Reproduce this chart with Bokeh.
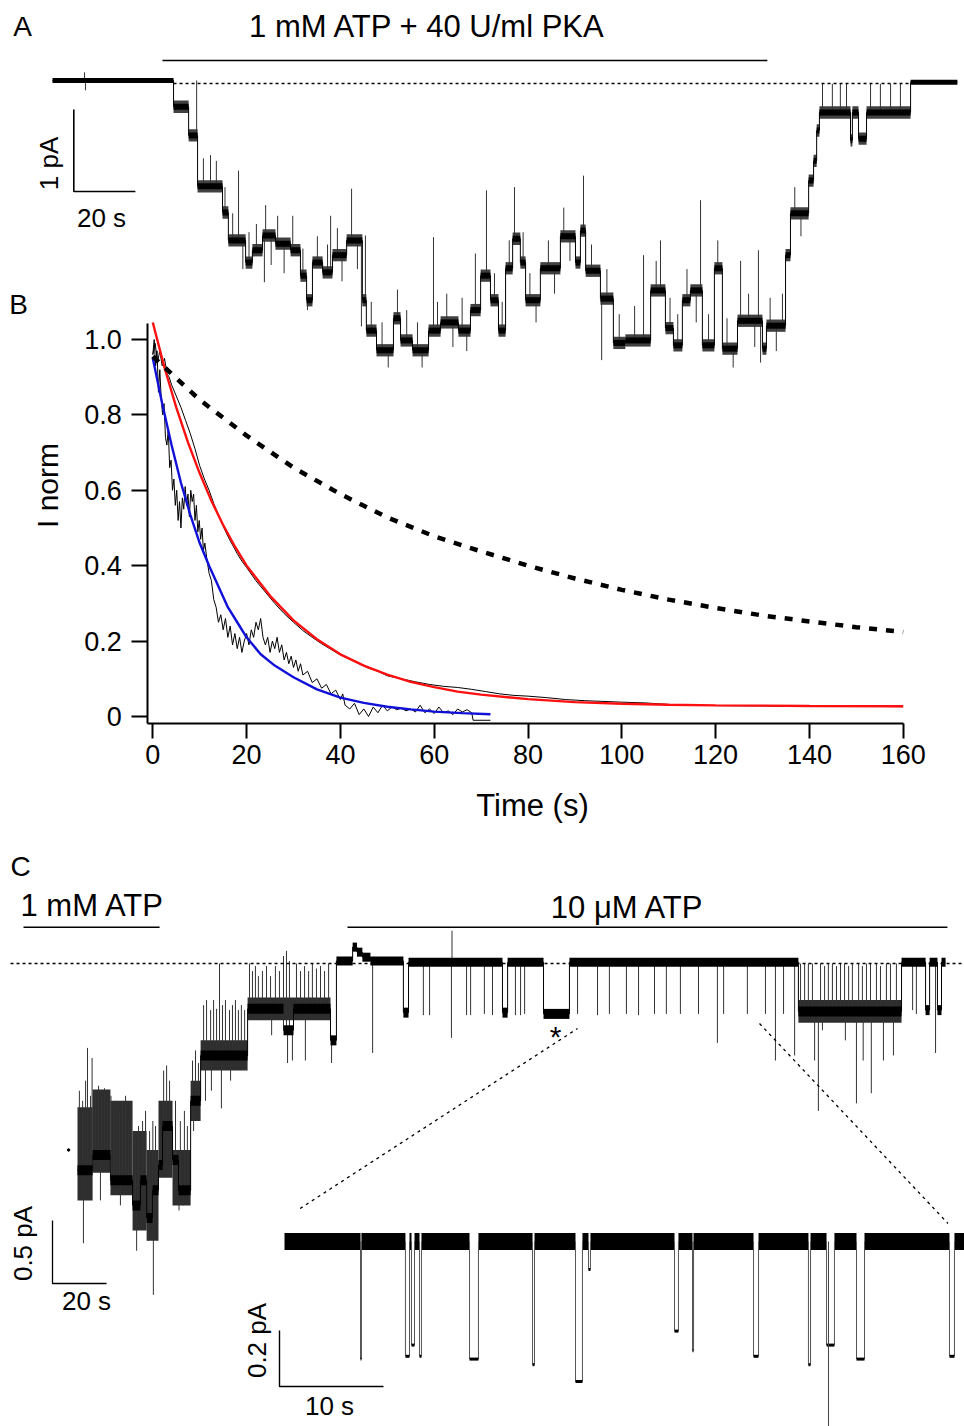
import numpy as np
from bokeh.plotting import figure
from bokeh.models import Range1d, LinearAxis, FixedTicker, PrintfTickFormatter, Label
from bokeh.embed import file_html
from bokeh.resources import INLINE

# ---------------- data ----------------
# Panel A: patch recording, step levels (start time in s, current in pA)
a_start = [0, 39.3, 44.2, 47.1, 55.2, 57.1, 62.7, 64.9, 68.2, 72.4,
           77.3, 80.5, 82.5, 84.4, 87.7, 90.9, 95.5, 100.6, 101.9, 105.2,
           110.7, 113.0, 116.9, 122.1, 126.0, 131.8, 135.7, 139.0, 142.2, 144.8,
           147.1, 149.4, 151.9, 153.6, 158.4, 164.9, 169.8, 171.4, 173.1, 177.9,
           182.1, 186.0, 194.2, 199.0, 201.6, 204.5, 207.1, 211.0, 214.9, 217.5,
           222.4, 230.5, 231.8, 238.0, 239.6, 245.5, 247.1, 248.1, 249.0, 259.1,
           259.7, 261.7, 264.3, 278.6]
a_level = [0.0, -0.32, -0.67, -1.29, -1.61, -1.95, -2.22, -2.07, -1.89, -1.99,
           -2.07, -2.38, -2.68, -2.22, -2.34, -2.13, -1.95, -2.68, -3.05, -3.29,
           -2.90, -3.17, -3.29, -3.05, -2.95, -3.05, -2.80, -2.38, -2.68, -3.05,
           -2.29, -1.93, -2.22, -2.68, -2.29, -1.90, -2.22, -1.83, -2.32, -2.66,
           -3.20, -3.17, -2.56, -3.02, -3.23, -2.68, -2.56, -3.23, -2.29, -3.27,
           -2.93, -3.27, -2.99, -2.13, -1.62, -1.22, -0.98, -0.61, -0.39, -0.73,
           -0.39, -0.71, -0.39, -0.02]
a_end = 293.8
a_noise = 0.075                # half-width of the noise band at open levels (pA)
# brief flickers (time s, tip pA)
a_spikes = [(10.4, 0.10), (10.7, -0.12), (46.8, 0.0), (49.0, -0.95), (51.3, -0.91),
            (53.2, -0.98), (56.0, -1.30), (58.5, -1.62), (60.4, -1.10), (61.8, -2.30),
            (63.8, -1.85), (66.2, -1.75), (68.8, -2.46), (69.2, -1.52), (71.0, -2.25),
            (73.1, -1.65), (75.2, -2.35), (78.0, -1.65), (81.3, -2.05), (82.8, -2.80),
            (86.0, -1.90), (89.3, -2.00), (90.3, -1.65), (92.5, -1.80), (94.0, -2.45),
            (97.1, -1.32), (99.0, -2.30), (100.3, -3.00), (101.6, -1.89), (103.5, -2.70),
            (107.0, -2.95), (109.0, -3.50), (112.0, -2.55), (115.0, -2.80), (118.5, -2.95),
            (120.0, -3.50), (123.7, -1.91), (125.0, -2.70), (128.0, -2.60), (130.0, -3.25),
            (133.0, -2.65), (134.5, -3.30), (137.3, -2.11), (140.9, -1.34), (143.5, -2.35),
            (146.0, -2.70), (148.3, -1.95), (150.0, -1.30), (152.8, -1.85), (155.0, -2.35),
            (157.0, -2.95), (161.0, -1.95), (163.0, -2.60), (166.0, -1.55), (168.0, -2.20),
            (172.4, -1.16), (175.0, -2.00), (178.3, -3.41), (180.0, -2.30), (184.0, -2.85),
            (189.0, -2.75), (191.9, -2.13), (196.0, -2.20), (197.4, -1.95), (200.5, -2.65),
            (203.0, -2.85), (206.0, -2.30), (209.0, -2.95), (210.4, -1.46), (213.0, -2.85),
            (216.0, -1.95), (219.0, -2.90), (221.0, -3.50), (223.4, -2.20), (226.0, -2.60),
            (228.0, -3.25), (229.2, -2.07), (229.9, -3.44), (233.0, -2.65), (235.0, -3.30),
            (237.0, -2.60), (241.0, -1.30), (243.0, -1.90), (250.0, -0.04), (253.2, -0.04),
            (255.8, -0.04), (257.8, -0.04), (265.6, -0.04), (268.8, -0.04), (272.1, -0.04),
            (275.3, -0.04)]
a_pka = (35.7, 232.1)          # 1 mM ATP + 40 U/ml PKA application (s)
a_zero_line = (39.3, 278.6)    # dotted zero-current line (s)

# Panel B: normalised current decay, time (s)
b_fast_t = [0, 0.3, 0.6, 0.9, 1.2, 1.5, 1.8, 2.1, 2.4, 2.7, 3.0, 3.3, 3.6, 3.9, 4.2, 4.5,
            4.8, 5.1, 5.4, 5.7, 6.0, 6.3, 6.6, 6.9, 7.2, 7.5, 7.8, 8.1, 8.4, 8.7, 9.0,
            9.3, 9.6, 9.9, 10.2, 10.5, 10.8, 11.1, 11.5, 12.0, 12.5, 13.0, 13.5, 14.0,
            14.5, 15.0, 15.5, 16.0, 16.5, 17.0, 17.5, 18.0, 18.5, 19.0, 19.5, 20.0,
            20.5, 21.0, 21.5, 22.0, 22.5, 23.0, 23.5, 24.0, 24.5, 25.0, 25.5, 26.0,
            26.5, 27.0, 27.5, 28.0, 28.5, 29.0, 29.5, 30.0, 30.5, 31.0, 31.5, 32.0,
            33.0, 34.0, 35.0, 36.0, 37.0, 38.0, 39.0, 40.0, 40.5, 41.0, 42.0, 43.0,
            44.0, 45.0, 46.0, 47.0, 48.0, 49.0, 50.0, 51.0, 52.0, 53.0, 54.0, 55.0,
            56.0, 57.0, 58.0, 59.0, 60.0, 61.0, 62.0, 63.0, 64.0, 65.0, 66.0, 67.0,
            68.0, 68.3, 72.0]
b_fast_v = [0.96, 1.00, 0.93, 0.97, 0.86, 0.92, 0.84, 0.80, 0.83, 0.74, 0.72, 0.76, 0.66,
            0.68, 0.60, 0.63, 0.56, 0.60, 0.52, 0.57, 0.50, 0.58, 0.55, 0.61, 0.56, 0.59,
            0.53, 0.60, 0.57, 0.59, 0.52, 0.56, 0.49, 0.52, 0.47, 0.50, 0.44, 0.46, 0.42,
            0.38, 0.36, 0.31, 0.29, 0.25, 0.27, 0.23, 0.26, 0.21, 0.24, 0.19, 0.22, 0.18,
            0.21, 0.17, 0.20, 0.22, 0.19, 0.23, 0.21, 0.25, 0.23, 0.26, 0.21, 0.19, 0.21,
            0.17, 0.20, 0.18, 0.21, 0.17, 0.19, 0.15, 0.17, 0.14, 0.16, 0.13, 0.15, 0.12,
            0.14, 0.11, 0.12, 0.09, 0.10, 0.075, 0.085, 0.06, 0.07, 0.045, 0.06, 0.03,
            0.02, 0.035, 0.005, 0.02, 0.0, 0.025, 0.01, 0.03, 0.015, 0.025, 0.018, 0.022,
            0.015, 0.02, 0.012, 0.03, 0.01, 0.02, 0.008, 0.025, 0.01, 0.015, 0.005, 0.02,
            0.012, 0.018, 0.01, -0.01, -0.01]
b_slow_t = [0, 0.5, 1, 1.5, 2, 2.5, 3, 3.5, 4, 5, 6, 7, 8, 9, 10, 11, 12, 13, 14, 15, 16,
            17, 18, 19, 20, 22, 24, 26, 28, 30, 32, 34, 36, 38, 40, 42, 44, 46, 48, 50,
            53, 56, 59, 62, 65, 68, 71, 74, 77, 80, 84, 88, 92, 96, 100, 105, 110, 115,
            120, 130, 140, 150, 160]
b_slow_v = [0.96, 0.99, 0.94, 0.97, 0.93, 0.95, 0.91, 0.90, 0.88, 0.85, 0.82, 0.785, 0.75,
            0.71, 0.665, 0.63, 0.60, 0.565, 0.535, 0.505, 0.478, 0.455, 0.432, 0.412,
            0.395, 0.36, 0.33, 0.30, 0.273, 0.25, 0.228, 0.21, 0.193, 0.178, 0.163, 0.152,
            0.14, 0.128, 0.12, 0.108, 0.10, 0.092, 0.085, 0.08, 0.077, 0.072, 0.066, 0.06,
            0.056, 0.054, 0.05, 0.045, 0.042, 0.04, 0.038, 0.036, 0.032, 0.03, 0.029,
            0.028, 0.027, 0.027, 0.026]
red_t = [0, 2.5, 5, 7.5, 10, 12.5, 15, 17.5, 20, 25, 30, 35, 40, 45, 50, 55, 60, 65, 70,
         80, 90, 100, 110, 120, 140, 160]
red_v = [1.045, 0.925, 0.82, 0.727, 0.645, 0.572, 0.508, 0.451, 0.40, 0.32, 0.255, 0.205,
         0.165, 0.135, 0.111, 0.092, 0.078, 0.066, 0.058, 0.046, 0.038, 0.034, 0.031,
         0.0295, 0.028, 0.027]
blue_t = [0, 2, 4, 6, 8, 10, 12, 14, 16, 18, 20, 23, 26, 30, 35, 40, 45, 50, 55, 60, 66, 72]
blue_v = [0.95, 0.83, 0.72, 0.62, 0.535, 0.46, 0.40, 0.345, 0.29, 0.25, 0.21, 0.165,
          0.135, 0.104, 0.072, 0.05, 0.036, 0.026, 0.019, 0.013, 0.009, 0.006]
dash_t = [0, 10, 20, 30, 40, 50, 60, 70, 80, 90, 100, 110, 120, 130, 140, 150, 160]
dash_v = [0.955, 0.84, 0.745, 0.66, 0.59, 0.528, 0.478, 0.438, 0.40, 0.366, 0.336, 0.31,
          0.288, 0.268, 0.252, 0.237, 0.224]
b_xticks = [0, 20, 40, 60, 80, 100, 120, 140, 160]
b_yticks = [0, 0.2, 0.4, 0.6, 0.8, 1.0]

# Panel C: 1 mM ATP -> 10 uM ATP, step levels (s, pA)
c_start = [0, 5.6, 12.2, 20.4, 23.3, 25.6, 27.8, 30.0, 31.5, 35.2, 37.4, 41.9, 45.6,
           63.0, 76.3, 80.0, 93.7, 95.9, 101.9, 103.5, 105.5, 108.5, 120.7, 122.6,
           157.4, 159.3, 172.6, 182.2, 267.0, 305.2, 314.1, 315.6, 318.5, 320.0]
c_level = [-1.64, -1.52, -1.72, -1.92, -1.72, -2.02, -1.80, -1.60, -1.29, -1.56, -1.80,
           -1.09, -0.73, -0.36, -0.53, -0.36, -0.61, 0.02, 0.13, 0.09, 0.05, 0.02, -0.39,
           0.01, -0.39, 0.01, -0.40, 0.01, -0.38, 0.01, -0.37, 0.01, -0.37, 0.01]
c_end = 321.5
# noisy stretches: (from s, to s, low pA, high pA)
c_noise_bands = [(0, 5.6, -1.88, -1.14), (5.6, 12.2, -1.66, -1.0), (12.2, 20.4, -1.84, -1.09),
                 (20.4, 25.6, -2.12, -1.33), (25.6, 30.0, -2.2, -1.48), (30.0, 35.2, -1.70, -1.09),
                 (35.2, 41.9, -1.92, -1.48), (41.9, 45.6, -1.25, -0.93), (45.6, 63.0, -0.85, -0.61),
                 (63.0, 93.7, -0.45, -0.27), (267.0, 305.2, -0.47, -0.29)]
c_spikes = [(0.7, -1.01), (1.9, -1.09), (2.2, -2.22), (3.0, -0.93), (3.7, -0.67),
            (4.8, -1.05), (5.4, -0.75), (6.7, -1.01), (7.8, -0.97), (8.5, -1.88),
            (8.9, -1.05), (10.0, -0.99), (11.1, -1.01), (12.4, -1.05), (13.3, -1.13),
            (14.4, -1.09), (15.6, -1.17), (15.9, -1.92), (16.7, -1.09), (17.8, -1.05),
            (18.9, -1.25), (20.0, -1.17), (21.5, -1.40), (21.9, -2.28), (22.6, -1.29),
            (24.1, -1.25), (25.2, -1.17), (26.3, -2.20), (26.7, -1.33), (27.9, -1.25),
            (28.1, -2.63), (28.9, -1.29), (31.9, -0.85), (33.0, -0.81), (34.1, -0.93),
            (36.3, -1.09), (37.6, -1.96), (38.1, -1.25), (39.3, -1.92), (39.6, -1.17),
            (40.7, -1.29), (42.6, -0.77), (43.0, -1.33), (43.7, -0.69), (44.8, -0.79),
            (46.7, -0.33), (47.4, -1.09), (47.8, -0.29), (49.3, -0.37), (49.6, -1.01),
            (50.4, -0.29), (51.5, -0.36), (52.6, 0.0), (53.3, -1.15), (53.7, -0.33),
            (54.8, -0.29), (56.3, -0.37), (56.7, -0.93), (57.4, -0.33), (58.5, -0.29),
            (59.6, -0.37), (60.7, -0.33), (61.9, -0.37), (63.7, 0.0), (64.8, -0.06),
            (65.9, -0.02), (67.0, -0.10), (68.5, -0.06), (70.0, -0.02), (71.5, -0.10),
            (71.9, -0.57), (73.3, -0.02), (74.8, -0.06), (76.3, 0.06), (77.4, 0.10),
            (77.8, -0.79), (78.5, 0.02), (79.6, -0.77), (81.1, 0.0), (82.6, -0.06),
            (84.1, -0.02), (84.4, -0.77), (85.6, -0.06), (87.0, 0.0), (88.5, -0.04),
            (90.0, -0.02), (91.5, -0.06), (93.0, 0.0), (94.1, -0.79), (109.3, -0.71),
            (128.1, -0.41), (130.4, -0.41), (138.5, -0.59), (138.7, 0.26), (144.1, -0.41),
            (145.6, -0.41), (150.7, -0.40), (153.7, -0.41), (162.2, -0.41), (164.1, -0.41),
            (165.6, -0.40), (185.2, -0.40), (192.6, -0.41), (197.0, -0.40), (203.3, -0.40),
            (207.8, -0.41), (213.7, -0.40), (218.1, -0.40), (223.3, -0.40), (230.0, -0.40),
            (237.0, -0.63), (239.3, -0.40), (248.1, -0.40), (254.8, -0.40), (258.5, -0.77),
            (261.5, -0.40), (265.6, -0.73), (267.8, 0.0), (269.3, 0.0), (270.7, 0.0),
            (272.2, 0.0), (273.0, -0.77), (274.4, -1.17), (275.2, 0.0), (275.9, -0.53),
            (276.7, -0.02), (278.1, 0.0), (279.6, 0.0), (281.1, -0.02), (282.6, 0.0),
            (284.1, 0.0), (284.4, -0.61), (285.6, -0.02), (287.0, 0.0), (288.5, -1.11),
            (289.3, 0.0), (290.7, -0.02), (291.0, -0.77), (292.2, 0.0), (293.7, 0.0),
            (294.0, -1.03), (295.9, 0.0), (297.4, -0.02), (298.5, -0.77), (299.6, 0.0),
            (301.1, 0.0), (302.2, -0.73), (303.3, 0.0), (309.3, -0.37), (310.7, -0.40),
            (317.8, -0.71)]
c_stray = (-3.3, -1.48)
c_high_atp = (-20.0, 30.4)     # 1 mM ATP (s)
c_low_atp = (100.0, 322.2)     # 10 uM ATP (s)
c_zero_line = (-24.8, 328.5)
c_zoom_window = (185.2, 252.6) # stretch expanded below (s)

# Inset: expanded stretch, closures (s, pA)
i_end = 65.4
i_close_start = [7.31, 11.63, 12.21, 12.98, 17.79, 23.85, 27.98, 29.23, 37.50, 39.23,
                 45.10, 50.38, 52.12, 55.00, 63.94]
i_close_end = [7.40, 12.02, 12.50, 13.17, 18.65, 24.04, 28.65, 29.42, 37.88, 39.33,
               45.58, 50.58, 52.88, 55.77, 64.42]
i_close_depth = [-0.42, -0.41, -0.37, -0.41, -0.42, -0.44, -0.50, -0.10, -0.32, -0.39,
                 -0.41, -0.44, -0.37, -0.42, -0.41]
i_spike = (52.31, -0.66)

# ---------------- layout (page pixels) ----------------
W0, W1, H0, H1 = 0, 964, 0, 1426
FONT = "Liberation Sans"
A_X0, A_SX, A_Y0, A_SY = 52, 3.08, 80, 82
B_X0, B_SX, B_Y0, B_SY = 152.3, 4.69, 716, 377
C_X0, C_SX, C_Y0, C_SY = 77, 2.7, 963, 126
I_X0, I_SX, I_Y0, I_SY = 284, 10.4, 1241, 280


def xr(x0, sx):
    return Range1d((W0 - x0) / sx, (W1 - x0) / sx)


def yr(y0, sy):
    return Range1d((y0 - H1) / sy, (y0 - H0) / sy)


def to_x(px, x0, sx):
    return (px - x0) / sx


def to_y(py, y0, sy):
    return (y0 - py) / sy


p = figure(width=W1 - W0, height=H1 - H0, x_range=Range1d(W0, W1), y_range=Range1d(H1, H0),
           x_axis_type=None, y_axis_type=None, output_backend="svg",
           toolbar_location=None, min_border=0)
p.outline_line_color = None
p.grid.visible = False
p.extra_x_ranges = {"a": xr(A_X0, A_SX), "b": xr(B_X0, B_SX), "c": xr(C_X0, C_SX), "i": xr(I_X0, I_SX)}
p.extra_y_ranges = {"a": yr(A_Y0, A_SY), "b": yr(B_Y0, B_SY), "c": yr(C_Y0, C_SY), "i": yr(I_Y0, I_SY)}


def noise_band(left, right, bottom, top, rn, alpha):
    # the recording noise, seen at this scale as a dark smear round the level
    p.quad(left=left, right=right, bottom=bottom, top=top, fill_color="#111111",
           fill_alpha=alpha, line_alpha=0, x_range_name=rn, y_range_name=rn)


def draw_steps(starts, levels, end, spikes, rn, base_w, level_w):
    starts = np.asarray(starts, float)
    levels = np.asarray(levels, float)
    ends = np.append(starts[1:], end)
    xs = np.column_stack([starts, ends]).ravel()
    ys = np.repeat(levels, 2)
    p.line(xs, ys, line_color="black", line_width=1, x_range_name=rn, y_range_name=rn)
    st, tip = np.array(spikes).T
    base = levels[np.searchsorted(starts, st, side="right") - 1]
    p.segment(st, base, st, tip, line_color="#333333", line_width=1,
              x_range_name=rn, y_range_name=rn)
    widths = np.where(np.abs(levels) < 0.2, base_w, level_w)
    p.segment(starts, levels, ends, levels, line_color="black", line_width=widths,
              x_range_name=rn, y_range_name=rn)


def text(x, y, s, size, align="center", angle=0):
    p.add_layout(Label(x=x, y=y, text=s, text_font=FONT, text_font_size=size,
                       text_align=align, text_baseline="middle", angle=angle,
                       angle_units="deg", text_color="black"))


def scale_bar(corner, x0, sx, y0, sy, dt, di, rn, width=1.6):
    t0 = to_x(corner[0], x0, sx)
    i0 = to_y(corner[1], y0, sy)
    p.line([t0, t0, t0 + dt], [i0 + di, i0, i0], line_color="black", line_width=width,
           x_range_name=rn, y_range_name=rn)


# ---------- panel A ----------
s_a = np.asarray(a_start, float)
e_a = np.append(s_a[1:], a_end)
l_a = np.asarray(a_level, float)
deep = np.abs(l_a) > 0.2
noise_band(s_a[deep], e_a[deep], l_a[deep] - a_noise, l_a[deep] + a_noise, "a", 0.8)
draw_steps(a_start, a_level, a_end, a_spikes, "a", 5, 6)
y_bar_a = to_y(60, A_Y0, A_SY)
p.line(list(a_pka), [y_bar_a, y_bar_a], line_color="black", line_width=1.6,
       x_range_name="a", y_range_name="a")
p.line(list(a_zero_line), [to_y(83, A_Y0, A_SY)] * 2, line_color="black", line_width=1.3,
       line_dash="3 3", x_range_name="a", y_range_name="a")
scale_bar((73.3, 191), A_X0, A_SX, A_Y0, A_SY, 20, 1.0, "a")
text(22, 26, "A", "28px")
text(427, 26, "1 mM ATP + 40 U/ml PKA", "31px")
text(48, 163, "1 pA", "26px", angle=90)
text(101, 217, "20 s", "26px")

# ---------- panel B ----------
p.line(b_slow_t, b_slow_v, line_color="black", line_width=1, x_range_name="b", y_range_name="b")
p.line(b_fast_t, b_fast_v, line_color="black", line_width=1, x_range_name="b", y_range_name="b")
p.line(red_t, red_v, line_color="#ff1010", line_width=2.4, x_range_name="b", y_range_name="b")
p.line(blue_t, blue_v, line_color="#1010d8", line_width=2.4, x_range_name="b", y_range_name="b")
p.line(dash_t, dash_v, line_color="black", line_width=4.5, line_dash="8 9",
       x_range_name="b", y_range_name="b")

ax_x = to_x(147.3, B_X0, B_SX)
ax_y = to_y(723, B_Y0, B_SY)
yaxis = LinearAxis(x_range_name="b", y_range_name="b", fixed_location=ax_x,
                   bounds=(ax_y, to_y(323, B_Y0, B_SY)), ticker=FixedTicker(ticks=b_yticks),
                   formatter=PrintfTickFormatter(format="%.1f"), major_label_overrides={0: "0"})
xaxis = LinearAxis(x_range_name="b", y_range_name="b", fixed_location=ax_y,
                   bounds=(ax_x, 160), ticker=FixedTicker(ticks=b_xticks))
for ax, tick_out, standoff in ((yaxis, 16, 10), (xaxis, 15, 6)):
    ax.axis_line_width = 2
    ax.major_tick_line_width = 2
    ax.major_tick_out = tick_out
    ax.major_tick_in = 0
    ax.minor_tick_out = 0
    ax.minor_tick_in = 0
    ax.major_label_standoff = standoff
    ax.major_label_text_font = FONT
    ax.major_label_text_font_size = "27px"
    ax.major_label_text_color = "black"
p.add_layout(yaxis, "left")
p.add_layout(xaxis, "below")
text(18, 304, "B", "28px")
text(47, 485, "I norm", "30px", angle=90)
text(532, 805, "Time (s)", "31px")

# ---------- panel C ----------
bl, br, blo, bhi = np.array(c_noise_bands).T
noise_band(bl, br, blo, bhi, "c", 0.88)
draw_steps(c_start, c_level, c_end, c_spikes, "c", 9, 10)
p.scatter([c_stray[0]], [c_stray[1]], size=2.5, color="black", x_range_name="c", y_range_name="c")
y_bar_c = to_y(926.7, C_Y0, C_SY)
for span in (c_high_atp, c_low_atp):
    p.line(list(span), [y_bar_c, y_bar_c], line_color="black", line_width=1.6,
           x_range_name="c", y_range_name="c")
p.line(list(c_zero_line), [0, 0], line_color="black", line_width=1.3, line_dash="3 3",
       x_range_name="c", y_range_name="c")
scale_bar((52, 1283), C_X0, C_SX, C_Y0, C_SY, 20, 0.5, "c", width=1.3)
text(20, 866, "C", "28px")
text(20, 905, "1 mM ATP", "31px", align="left")
text(627, 907, "10 \u03bcM ATP", "31px")
text(555, 1036, "*", "30px")
text(22, 1243, "0.5 pA", "26px", angle=90)
text(86, 1300, "20 s", "26px")

# ---------- inset ----------
cs = np.array(i_close_start)
ce = np.array(i_close_end)
cd = np.array(i_close_depth)
open_start = np.append(0, ce)
open_end = np.append(cs, i_end)
p.segment(open_start, 0, open_end, 0, line_color="black", line_width=17,
          x_range_name="i", y_range_name="i")
p.segment(cs, 0, cs, cd, line_color="#555555", line_width=1, x_range_name="i", y_range_name="i")
p.segment(ce, 0, ce, cd, line_color="#555555", line_width=1, x_range_name="i", y_range_name="i")
p.segment(cs, cd, ce, cd, line_color="black", line_width=3, x_range_name="i", y_range_name="i")
p.segment([i_spike[0]], [0], [i_spike[0]], [i_spike[1]], line_color="#444444", line_width=1,
          x_range_name="i", y_range_name="i")
scale_bar((279, 1386), I_X0, I_SX, I_Y0, I_SY, 10, 0.2, "i", width=1.4)
text(256, 1340, "0.2 pA", "26px", angle=90)
text(329, 1405, "10 s", "26px")

# dotted guides from the expanded stretch of panel C to the inset
c_px = [C_X0 + t * C_SX for t in c_zoom_window]
i_px = [I_X0 + 1.5 * I_SX, I_X0 + 63.8 * I_SX]
p.line([i_px[0], c_px[0]], [1208, 1028], line_color="black", line_width=1.3, line_dash="3 4")
p.line([c_px[1], i_px[1]], [1023, 1223], line_color="black", line_width=1.3, line_dash="3 4")

html = file_html(p, INLINE, title="Channel recordings")
open("out.html", "w").write(html)
